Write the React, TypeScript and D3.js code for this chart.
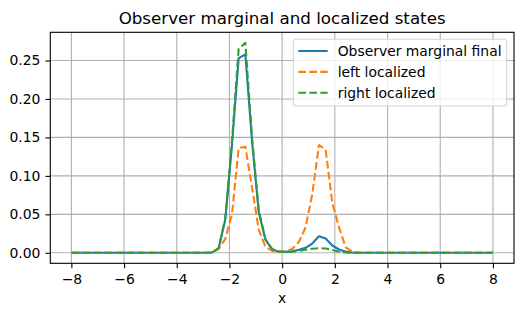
import * as d3 from "d3";
import React from "react";

// sampling grid: 64 points from -8 to 8
const xGrid = d3.range(64).map((i) => -8 + (i * 16) / 63);

const marginalFinal = [
  0, 0, 0, 0, 0, 0, 0, 0, 0, 0,
  0, 0, 0, 0, 0, 0, 0, 0, 0, 0,
  0, 0.0005, 0.0055, 0.043, 0.14, 0.253, 0.258, 0.145, 0.053, 0.017,
  0.0045, 0.0015, 0.0012, 0.002, 0.004, 0.0065, 0.012, 0.0215, 0.0185, 0.0095,
  0.0043, 0.0015, 0.0003, 0, 0, 0, 0, 0, 0, 0,
  0, 0, 0, 0, 0, 0, 0, 0, 0, 0,
  0, 0, 0, 0,
];

const leftLocalized = [
  0, 0, 0, 0, 0, 0, 0, 0, 0, 0,
  0, 0, 0, 0, 0, 0, 0, 0, 0, 0,
  0, 0.0005, 0.005, 0.018, 0.05, 0.136, 0.138, 0.085, 0.03, 0.008,
  0.0025, 0.001, 0.0015, 0.005, 0.014, 0.033, 0.076, 0.14, 0.134, 0.065,
  0.033, 0.007, 0.0015, 0.0002, 0, 0, 0, 0, 0, 0,
  0, 0, 0, 0, 0, 0, 0, 0, 0, 0,
  0, 0, 0, 0,
];

const rightLocalized = [
  0, 0, 0, 0, 0, 0, 0, 0, 0, 0,
  0, 0, 0, 0, 0, 0, 0, 0, 0, 0,
  0, 0.0005, 0.006, 0.045, 0.145, 0.265, 0.273, 0.15, 0.055, 0.018,
  0.005, 0.0015, 0.001, 0.0015, 0.0025, 0.004, 0.0052, 0.006, 0.0055, 0.0035,
  0.0015, 0.0005, 0.0001, 0, 0, 0, 0, 0, 0, 0,
  0, 0, 0, 0, 0, 0, 0, 0, 0, 0,
  0, 0, 0, 0,
];

const seriesNames = ["Observer marginal final", "left localized", "right localized"];
const seriesColors = ["#1f77b4", "#ff7f0e", "#2ca02c"];
const seriesDashed = [false, true, true];
const xTicks = [-8, -6, -4, -2, 0, 2, 4, 6, 8];
const yTicks = [0, 0.05, 0.1, 0.15, 0.2, 0.25];

const width = 525;
const height = 316;
const marginLeft = 50.3;
const marginRight = 11;
const marginTop = 32.3;
const marginBottom = 52.7;
const font = "DejaVu Sans, sans-serif";

export default function App() {
  const svgRef = React.useRef<SVGSVGElement>(null);

  React.useEffect(() => {
    const svg = d3.select(svgRef.current);
    svg.selectAll("*").remove();

    const allSeries = [marginalFinal, leftLocalized, rightLocalized];
    const x0 = d3.min(xGrid) as number;
    const x1 = d3.max(xGrid) as number;
    const yMin = d3.min(allSeries.flat()) as number;
    const yMax = d3.max(allSeries.flat()) as number;
    const xPad = (x1 - x0) * 0.05;
    const yPad = (yMax - yMin) * 0.05;

    const x = d3
      .scaleLinear()
      .domain([x0 - xPad, x1 + xPad])
      .range([marginLeft, width - marginRight]);
    const y = d3
      .scaleLinear()
      .domain([yMin - yPad, yMax + yPad])
      .range([height - marginBottom, marginTop]);

    // grid
    const grid = svg.append("g");
    grid
      .selectAll("line.vx")
      .data(xTicks)
      .join("line")
      .attr("x1", (d) => x(d))
      .attr("x2", (d) => x(d))
      .attr("y1", marginTop)
      .attr("y2", height - marginBottom)
      .attr("stroke", "#b0b0b0")
      .attr("stroke-width", 1.1);
    grid
      .selectAll("line.hy")
      .data(yTicks)
      .join("line")
      .attr("x1", marginLeft)
      .attr("x2", width - marginRight)
      .attr("y1", (d) => y(d))
      .attr("y2", (d) => y(d))
      .attr("stroke", "#b0b0b0")
      .attr("stroke-width", 1.1);

    // lines
    const line = d3
      .line<number>()
      .x((_, i) => x(xGrid[i]))
      .y((d) => y(d));

    allSeries.forEach((s, i) => {
      svg
        .append("path")
        .attr("fill", "none")
        .attr("stroke", seriesColors[i])
        .attr("stroke-width", 2.08)
        .attr("stroke-linejoin", "round")
        .attr("stroke-dasharray", seriesDashed[i] ? "7.7,3.33" : null)
        .attr("d", line(s));
    });

    // frame
    svg
      .append("rect")
      .attr("x", marginLeft)
      .attr("y", marginTop)
      .attr("width", width - marginLeft - marginRight)
      .attr("height", height - marginTop - marginBottom)
      .attr("fill", "none")
      .attr("stroke", "black")
      .attr("stroke-width", 1.1);

    // axes
    const xAxis = d3
      .axisBottom(x)
      .tickValues(xTicks)
      .tickSize(4.86)
      .tickPadding(5.5)
      .tickFormat((d) => d3.format("d")(d as number).replace("-", "\u2212"));
    svg
      .append("g")
      .attr("transform", `translate(0,${height - marginBottom})`)
      .call(xAxis)
      .call((g) => g.select(".domain").remove())
      .call((g) => g.selectAll(".tick line").attr("stroke-width", 1.1))
      .call((g) =>
        g.selectAll(".tick text").attr("font-size", 13.9).attr("font-family", font).attr("fill", "#000"),
      );

    const yAxis = d3
      .axisLeft(y)
      .tickValues(yTicks)
      .tickSize(4.86)
      .tickPadding(5.1)
      .tickFormat(d3.format(".2f") as any);
    svg
      .append("g")
      .attr("transform", `translate(${marginLeft},0)`)
      .call(yAxis)
      .call((g) => g.select(".domain").remove())
      .call((g) => g.selectAll(".tick line").attr("stroke-width", 1.1))
      .call((g) =>
        g.selectAll(".tick text").attr("font-size", 13.9).attr("font-family", font).attr("fill", "#000"),
      );

    // title and axis label
    svg
      .append("text")
      .attr("x", (marginLeft + width - marginRight) / 2)
      .attr("y", 24)
      .attr("text-anchor", "middle")
      .attr("font-family", font)
      .attr("font-size", 16.7)
      .text("Observer marginal and localized states");

    svg
      .append("text")
      .attr("x", (marginLeft + width - marginRight) / 2)
      .attr("y", 303.3)
      .attr("text-anchor", "middle")
      .attr("font-family", font)
      .attr("font-size", 13.9)
      .text("x");

    // legend
    const legend = svg.append("g");
    legend
      .append("rect")
      .attr("x", 293.3)
      .attr("y", 39.3)
      .attr("width", 213.4)
      .attr("height", 66.7)
      .attr("rx", 2.8)
      .attr("fill", "white")
      .attr("fill-opacity", 0.8)
      .attr("stroke", "#cccccc")
      .attr("stroke-opacity", 0.8)
      .attr("stroke-width", 1.1);

    seriesNames.forEach((name, i) => {
      const ly = 51 + i * 20.85;
      legend
        .append("line")
        .attr("x1", 298.3)
        .attr("x2", 327.7)
        .attr("y1", ly)
        .attr("y2", ly)
        .attr("stroke", seriesColors[i])
        .attr("stroke-width", 2.08)
        .attr("stroke-dasharray", seriesDashed[i] ? "7.7,3.33" : null);
      legend
        .append("text")
        .attr("x", 337.7)
        .attr("y", ly)
        .attr("dy", "0.36em")
        .attr("font-family", font)
        .attr("font-size", 13.9)
        .attr("fill", "#000")
        .text(name);
    });
  }, []);

  return (
    <svg
      ref={svgRef}
      width={width}
      height={height}
      style={{ position: "absolute", left: 0, top: 0, background: "white" }}
    />
  );
}
